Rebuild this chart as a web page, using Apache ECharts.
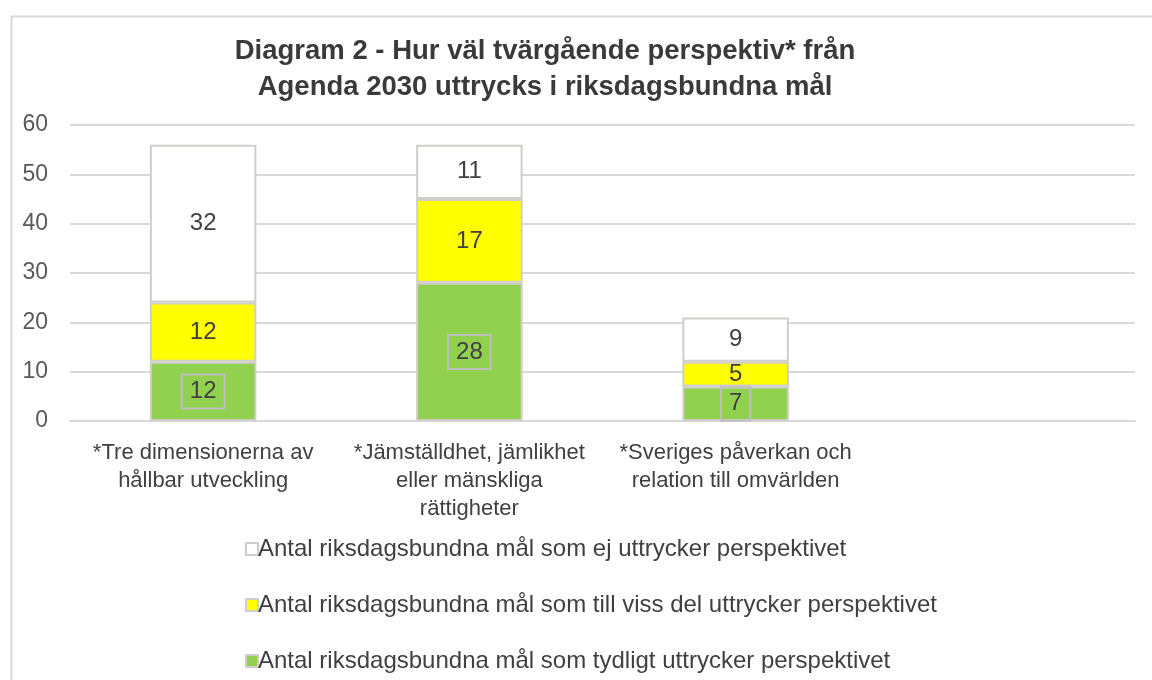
<!DOCTYPE html>
<html><head><meta charset="utf-8">
<script src="https://cdn.jsdelivr.net/npm/echarts@6/dist/echarts.min.js"></script>
<style>html,body{margin:0;padding:0;background:#fff}#c{width:1152px;height:680px}</style>
</head><body><div id="c"></div>
<script>
const categories = ['*Tre dimensionerna av\nhållbar utveckling', '*Jämställdhet, jämlikhet\neller mänskliga\nrättigheter', '*Sveriges påverkan och\nrelation till omvärlden', ''];
const tydligt = [12, 28, 7, null];
const vissDel = [12, 17, 5, null];
const ej = [32, 11, 9, null];
const seriesNames = [
  'Antal riksdagsbundna mål som tydligt uttrycker perspektivet',
  'Antal riksdagsbundna mål som till viss del uttrycker perspektivet',
  'Antal riksdagsbundna mål som ej uttrycker perspektivet'
];
const yTicks = [0, 10, 20, 30, 40, 50, 60];

const narrow = '"Liberation Sans Narrow", "Liberation Sans", sans-serif';
const regular = '"Liberation Sans", "Noto Sans", sans-serif';
const edge = '#d0cec9';
function mk(name, data, color, boxed) {
  return {
    name, type: 'bar', stack: 's', data, barWidth: '40%',
    itemStyle: { color, borderColor: edge, borderWidth: 2 },
    label: {
      show: true, position: 'inside', color: '#404040', fontFamily: regular, fontSize: 24,
      borderColor: boxed ? '#bfbfbf' : 'transparent', borderWidth: boxed ? 2 : 0,
      padding: boxed ? [6, 8, 4, 8] : 0
    }
  };
}
const chart = echarts.init(document.getElementById('c'));
chart.setOption({
  animation: false,
  graphic: [{ type: 'rect', left: 9, top: 14, shape: { width: 1160, height: 700 }, style: { fill: 'none', stroke: '#d9d9d9', lineWidth: 2 } }],
  title: {
    text: 'Diagram 2 - Hur väl tvärgående perspektiv* från\nAgenda 2030 uttrycks i riksdagsbundna mål',
    left: 540, textAlign: 'center', top: 28,
    textStyle: { fontFamily: narrow, fontWeight: 'bold', fontSize: 27.5, color: '#3a3a3a', lineHeight: 36 }
  },
  grid: { left: 70, right: 17, top: 125, bottom: 259 },
  xAxis: {
    type: 'category', data: categories,
    axisLine: { lineStyle: { color: '#d9d9d9', width: 2 } },
    axisTick: { show: false },
    axisLabel: { interval: 0, color: '#404040', fontFamily: narrow, fontSize: 22, lineHeight: 28, margin: 18 }
  },
  yAxis: {
    type: 'value', min: yTicks[0], max: yTicks[yTicks.length - 1], interval: 10,
    axisLine: { show: false }, axisTick: { show: false },
    splitLine: { lineStyle: { color: '#d9d9d9', width: 2 } },
    axisLabel: { color: '#595959', fontFamily: regular, fontSize: 23, margin: 22 }
  },
  legend: {
    orient: 'vertical', left: 240, top: 532, itemGap: 32,
    itemWidth: 12, itemHeight: 12, icon: 'rect',
    data: [seriesNames[2], seriesNames[1], seriesNames[0]],
    textStyle: { color: '#404040', fontFamily: narrow, fontSize: 24, padding: [0, 0, 0, -5] }
  },
  series: [
    mk(seriesNames[0], tydligt, '#92d050', true),
    mk(seriesNames[1], vissDel, '#ffff00', false),
    mk(seriesNames[2], ej, '#ffffff', false)
  ]
});
</script></body></html>
